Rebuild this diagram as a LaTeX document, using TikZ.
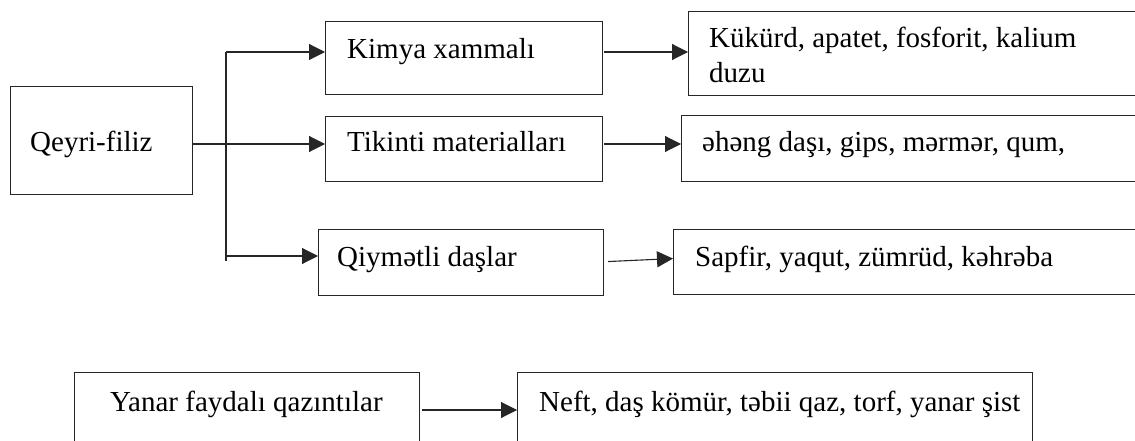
\documentclass[tikz,border=0pt]{standalone}
\usepackage{fontspec}
\setmainfont{Liberation Serif}
\usetikzlibrary{arrows.meta}
\begin{document}
\begin{tikzpicture}[x=1pt,y=-1pt,
  boxline/.style={draw=black!85,line width=1.1pt},
  box/.style={boxline,rectangle,inner sep=0pt,anchor=north west},
  txt/.style={anchor=base west,inner sep=0pt,font=\fontsize{29}{35}\selectfont},
  conn/.style={draw=black!85,line width=1.1pt},
  arr/.style={conn,-{Triangle[length=16pt,width=16pt]}}]
\useasboundingbox (0,0) rectangle (1135,441);
\clip (0,0) rectangle (1135,441);
% boxes
\node[box,minimum width=182pt,minimum height=108pt] (qf) at (10,86) {};
\node[box,minimum width=277pt,minimum height=73pt] (kim) at (325,21) {};
\node[box,minimum width=277pt,minimum height=65pt] (tik) at (325,116) {};
\node[box,minimum width=285pt,minimum height=66pt] (qiy) at (318,229) {};
\node[box,minimum width=470pt,minimum height=84pt] (kuk) at (688,11) {};
\node[box,minimum width=470pt,minimum height=66pt] (ehe) at (681,115) {};
\node[box,minimum width=480pt,minimum height=65pt] (sap) at (673,229) {};
\node[box,minimum width=345pt,minimum height=90pt] (yan) at (74,372) {};
\node[box,minimum width=515pt,minimum height=90pt] (neft) at (517,372) {};
% texts
\node[txt] (tqf) at (30,152) {Qeyri-filiz};
\node[txt] (tkim) at (347,59) {Kimya xammalı};
\node[txt] (ttik) at (347,152) {Tikinti materialları};
\node[txt] (tqiy) at (337,266) {Qiymətli daşlar};
\node[txt] (tkuk1) at (709,48) {Kükürd, apatet, fosforit, kalium};
\node[txt] (tkuk2) at (709,83) {duzu};
\node[txt] (tehe) at (702,152) {əhəng daşı, gips, mərmər, qum,};
\node[txt] (tsap) at (695,266) {Sapfir, yaqut, zümrüd, kəhrəba};
\node[txt] (tyan) at (110,411) {Yanar faydalı qazıntılar};
\node[txt] (tneft) at (539,411) {Neft, daş kömür, təbii qaz, torf, yanar şist};
% connectors
\coordinate (jt) at (226,52);
\coordinate (jm) at (226,144);
\coordinate (jb) at (226,256);
\coordinate (je) at (226,261);
\coordinate (yrow) at (0,410);
\draw[conn] (jt) -- (je);
\draw[conn] (qf.east |- jm) -- (jm);
\draw[arr] (jt) -- (kim.west |- jt);
\draw[arr] (jm) -- (tik.west |- jm);
\draw[arr] (jb) -- (qiy.west |- jb);
\draw[arr] ([xshift=1pt]kim.east |- jt) -- (kuk.west |- jt);
\draw[arr] ([xshift=1pt]tik.east |- jm) -- (ehe.west |- jm);
\draw[arr] ([shift={(4,-1)}]qiy.east) -- ([yshift=3.5pt]sap.west);
\draw[arr] ([xshift=2pt]yan.east |- yrow) -- (neft.west |- yrow);
\end{tikzpicture}
\end{document}
